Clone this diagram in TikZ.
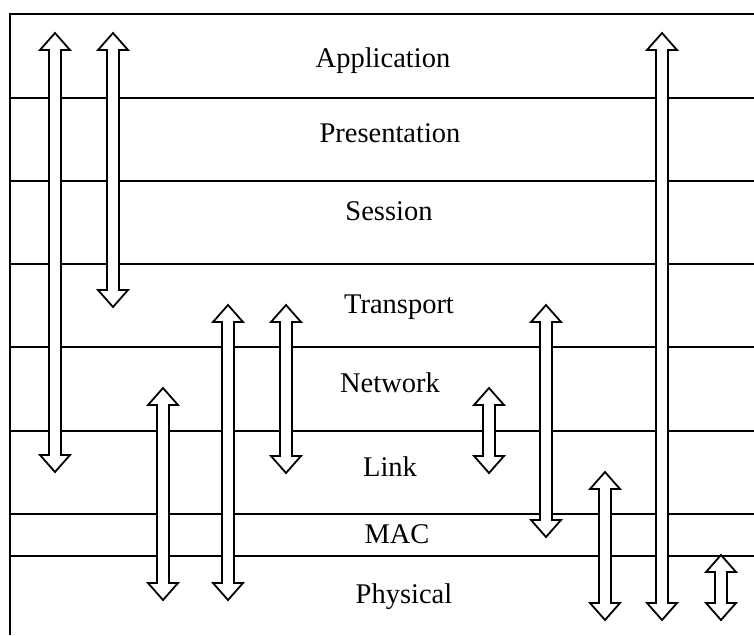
\documentclass[tikz,border=0pt]{standalone}
\usepackage{fontspec}
\setmainfont{Liberation Serif}
\begin{document}
\begin{tikzpicture}[x=1pt,y=-1pt,
layer/.style={line width=2.6pt},
label/.style={anchor=base,inner sep=0pt,font=\fontsize{28.5}{31}\selectfont},
hollow/.style={draw=black,fill=white,line width=1.8pt,line join=miter}]
\useasboundingbox (0,0) rectangle (754,635);
% frame and layer borders
\draw[layer] (10,635) -- (10,14) -- (754,14);
\foreach \y in {98,181,264,347,431,514,556}
  \draw[layer] (10,\y) -- (754,\y);
% double arrows: centre, top tip, bottom tip
\foreach \c/\t/\b in {55/33/472, 113/33/307, 163/388/600, 228/305/600, 286/305/473,
  489/388/473, 546/305/537, 605/472/620, 662/33/620, 721/555/620}
  \draw[hollow] (\c,\t) -- ({\c+15},{\t+17}) -- ({\c+6},{\t+17}) -- ({\c+6},{\b-17})
    -- ({\c+15},{\b-17}) -- (\c,\b) -- ({\c-15},{\b-17}) -- ({\c-6},{\b-17})
    -- ({\c-6},{\t+17}) -- ({\c-15},{\t+17}) -- cycle;
\node[label] (app) at (383,67) {Application};
\node[label] (pres) at (390,142) {Presentation};
\node[label] (sess) at (389,220) {Session};
\node[label] (trans) at (399,313) {Transport};
\node[label] (net) at (390,392) {Network};
\node[label] (link) at (390,476) {Link};
\node[label] (mac) at (397,543) {MAC};
\node[label] (phy) at (404,603) {Physical};
\end{tikzpicture}
\end{document}
